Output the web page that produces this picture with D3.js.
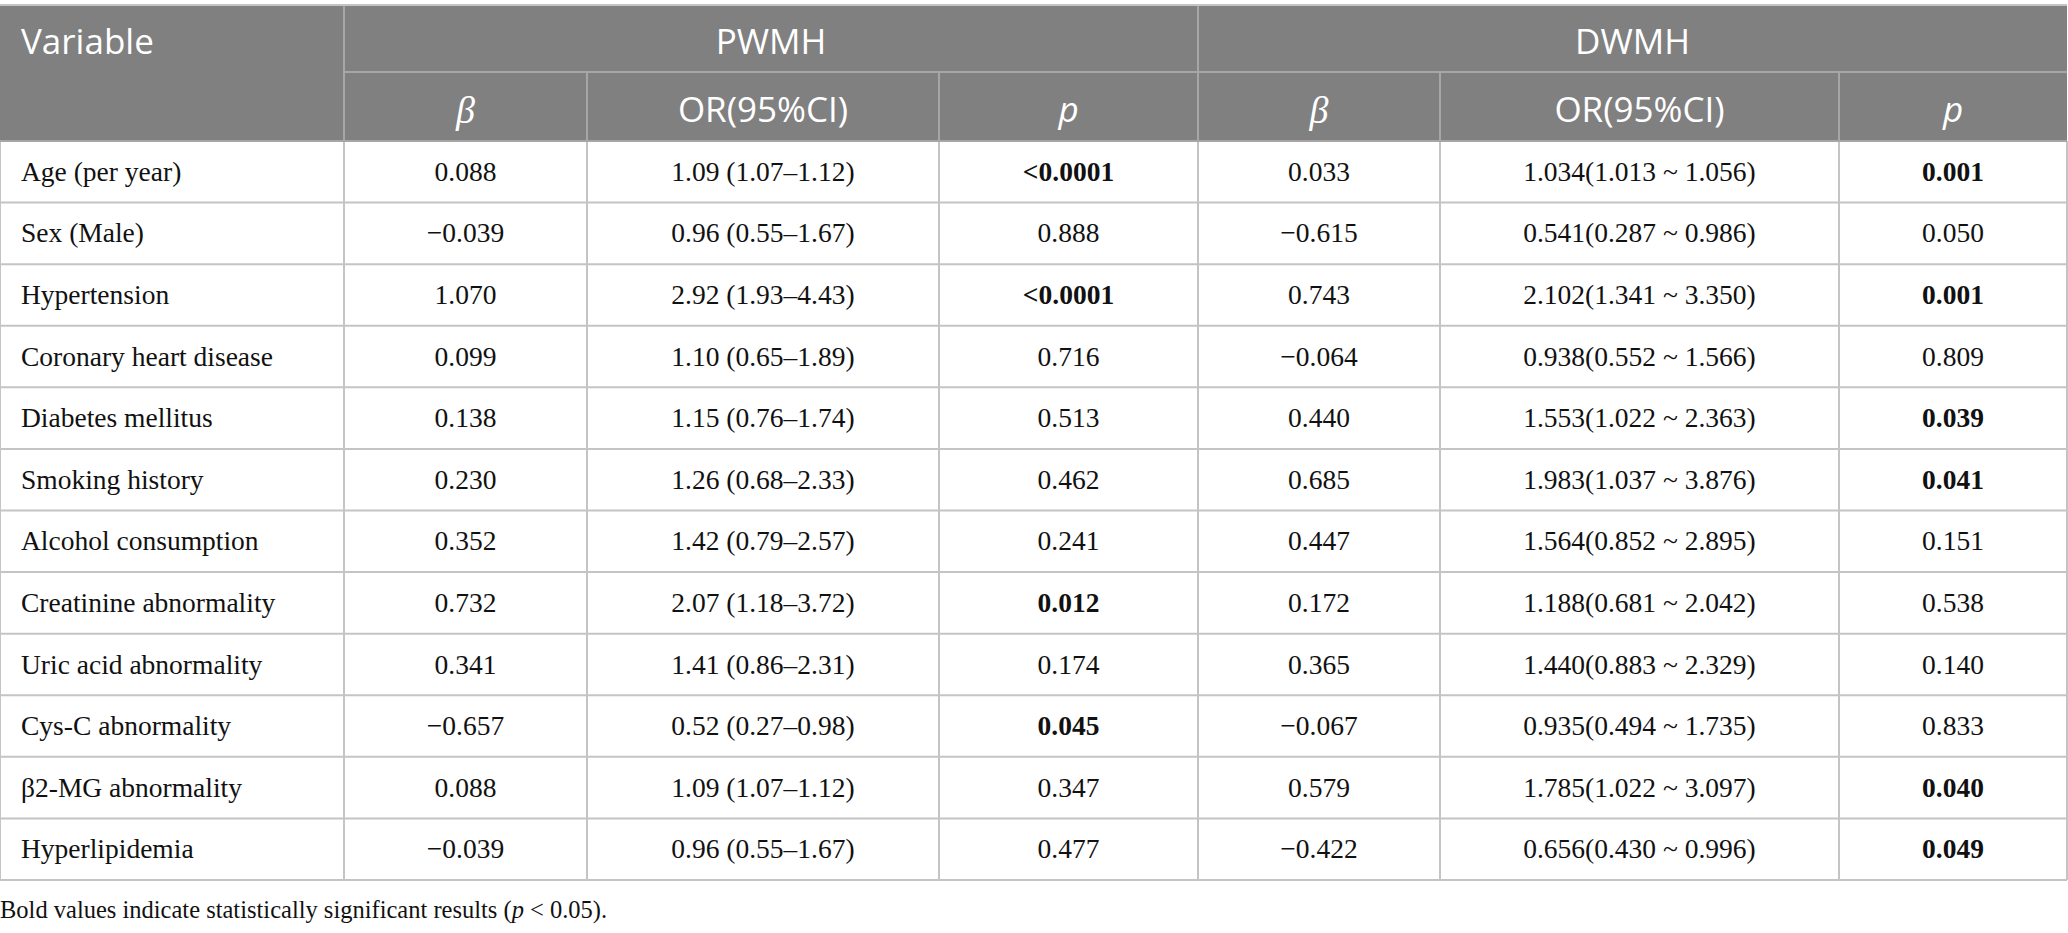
<!DOCTYPE html>
<html>
<head>
<meta charset="utf-8">
<script src="https://cdn.jsdelivr.net/npm/d3@7"></script>
<style>
  body { margin: 0; background: #fff; }
  svg { display: block; }
  .hd { font-family: "Open Sans", sans-serif; fill: #fff; }
  .hd.beta { font-family: "Liberation Serif", serif; }
  .cell { font-family: "Liberation Serif", "Times New Roman", serif; fill: #111; }
</style>
</head>
<body>
<svg id="tbl"></svg>
<script>
'use strict';

var WIDTH = 2068;
var HEIGHT = 933;

// table data
var variables = ["Age (per year)", "Sex (Male)", "Hypertension", "Coronary heart disease",
  "Diabetes mellitus", "Smoking history", "Alcohol consumption", "Creatinine abnormality",
  "Uric acid abnormality", "Cys-C abnormality", "\u03b22-MG abnormality", "Hyperlipidemia"];
var pwmhBeta = ["0.088", "\u22120.039", "1.070", "0.099", "0.138", "0.230", "0.352", "0.732",
  "0.341", "\u22120.657", "0.088", "\u22120.039"];
var pwmhOR = ["1.09 (1.07\u20131.12)", "0.96 (0.55\u20131.67)", "2.92 (1.93\u20134.43)", "1.10 (0.65\u20131.89)",
  "1.15 (0.76\u20131.74)", "1.26 (0.68\u20132.33)", "1.42 (0.79\u20132.57)", "2.07 (1.18\u20133.72)",
  "1.41 (0.86\u20132.31)", "0.52 (0.27\u20130.98)", "1.09 (1.07\u20131.12)", "0.96 (0.55\u20131.67)"];
var pwmhP = ["<0.0001", "0.888", "<0.0001", "0.716", "0.513", "0.462", "0.241", "0.012",
  "0.174", "0.045", "0.347", "0.477"];
var dwmhBeta = ["0.033", "\u22120.615", "0.743", "\u22120.064", "0.440", "0.685", "0.447", "0.172",
  "0.365", "\u22120.067", "0.579", "\u22120.422"];
var dwmhOR = ["1.034(1.013 ~ 1.056)", "0.541(0.287 ~ 0.986)", "2.102(1.341 ~ 3.350)", "0.938(0.552 ~ 1.566)",
  "1.553(1.022 ~ 2.363)", "1.983(1.037 ~ 3.876)", "1.564(0.852 ~ 2.895)", "1.188(0.681 ~ 2.042)",
  "1.440(0.883 ~ 2.329)", "0.935(0.494 ~ 1.735)", "1.785(1.022 ~ 3.097)", "0.656(0.430 ~ 0.996)"];
var dwmhP = ["0.001", "0.050", "0.001", "0.809", "0.039", "0.041", "0.151", "0.538",
  "0.140", "0.833", "0.040", "0.049"];
var groups = ["PWMH", "DWMH"];
var subHeads = ["\u03b2", "OR(95%CI)", "p"];

// layout
var colEdges = [0, 344, 587, 939, 1198, 1440, 1839, 2067];
var TOP = 5, HEAD_SPLIT = 72, HEAD_BOTTOM = 141, BOTTOM = 880;
var LINE = "#c4c4c4";
var HEAD_LINE = "#a6a6a6";
var HEAD_FILL = "#808080";

var rowScale = d3.scaleBand()
  .domain(variables)
  .range([HEAD_BOTTOM, BOTTOM]);

function significant(p) {
  if (p.charAt(0) === "<") return true;
  return parseFloat(p) < 0.05;
}

var svg = d3.select("#tbl").attr("width", WIDTH).attr("height", HEIGHT);

// header background
svg.append("rect")
  .attr("x", 0).attr("y", TOP)
  .attr("width", colEdges[7]).attr("height", HEAD_BOTTOM - TOP)
  .attr("fill", HEAD_FILL);

// row lines
svg.selectAll("line.row")
  .data(variables)
  .enter().append("line")
  .attr("class", "row")
  .attr("x1", 0).attr("x2", colEdges[7])
  .attr("y1", function(d) { return rowScale(d) + rowScale.bandwidth(); })
  .attr("y2", function(d) { return rowScale(d) + rowScale.bandwidth(); })
  .attr("stroke", LINE).attr("stroke-width", 2);

// vertical lines in body
svg.selectAll("line.vbody")
  .data(colEdges)
  .enter().append("line")
  .attr("x1", function(d) { return d; }).attr("x2", function(d) { return d; })
  .attr("y1", HEAD_BOTTOM).attr("y2", BOTTOM)
  .attr("stroke", LINE).attr("stroke-width", 2);

// header lines
svg.append("line")
  .attr("x1", colEdges[1]).attr("x2", colEdges[7])
  .attr("y1", HEAD_SPLIT).attr("y2", HEAD_SPLIT)
  .attr("stroke", HEAD_LINE).attr("stroke-width", 2);
[1, 4].forEach(function(i) {
  svg.append("line")
    .attr("x1", colEdges[i]).attr("x2", colEdges[i])
    .attr("y1", TOP).attr("y2", HEAD_BOTTOM)
    .attr("stroke", HEAD_LINE).attr("stroke-width", 2);
});
[2, 3, 5, 6].forEach(function(i) {
  svg.append("line")
    .attr("x1", colEdges[i]).attr("x2", colEdges[i])
    .attr("y1", HEAD_SPLIT).attr("y2", HEAD_BOTTOM)
    .attr("stroke", HEAD_LINE).attr("stroke-width", 2);
});
svg.append("line")
  .attr("x1", 0).attr("x2", colEdges[7])
  .attr("y1", TOP).attr("y2", TOP)
  .attr("stroke", LINE).attr("stroke-width", 2);
svg.append("line")
  .attr("x1", 0).attr("x2", colEdges[7])
  .attr("y1", HEAD_BOTTOM).attr("y2", HEAD_BOTTOM)
  .attr("stroke", HEAD_LINE).attr("stroke-width", 2);

// header text
svg.append("text")
  .attr("class", "hd")
  .attr("x", 21).attr("y", (TOP + HEAD_SPLIT) / 2 + 2.5)
  .attr("dy", "0.36em")
  .attr("font-size", 35)
  .text("Variable");

groups.forEach(function(g, gi) {
  var x0 = colEdges[1 + gi * 3], x1 = colEdges[4 + gi * 3];
  svg.append("text")
    .attr("class", "hd")
    .attr("x", (x0 + x1) / 2).attr("y", (TOP + HEAD_SPLIT) / 2 + 2.5)
    .attr("dy", "0.36em")
    .attr("text-anchor", "middle")
    .attr("font-size", 35)
    .text(g);
  subHeads.forEach(function(s, si) {
    var a = colEdges[1 + gi * 3 + si], b = colEdges[2 + gi * 3 + si];
    svg.append("text")
      .attr("class", si === 0 ? "hd beta" : "hd")
      .attr("x", (a + b) / 2).attr("y", (HEAD_SPLIT + HEAD_BOTTOM) / 2 + 2.5)
      .attr("dy", "0.36em")
      .attr("text-anchor", "middle")
      .attr("font-size", si === 0 ? 38 : 35)
      .attr("font-style", si === 1 ? "normal" : "italic")
      .text(s);
  });
});

// body cells
var columns = [pwmhBeta, pwmhOR, pwmhP, dwmhBeta, dwmhOR, dwmhP];
var boldCols = { 2: true, 5: true };

variables.forEach(function(v, r) {
  var yc = rowScale(v) + rowScale.bandwidth() / 2;
  svg.append("text")
    .attr("class", "cell")
    .attr("x", 21).attr("y", yc).attr("dy", "0.33em")
    .attr("font-size", 27.5)
    .text(v);
  columns.forEach(function(col, c) {
    var val = col[r];
    svg.append("text")
      .attr("class", "cell")
      .attr("x", (colEdges[c + 1] + colEdges[c + 2]) / 2)
      .attr("y", yc).attr("dy", "0.33em")
      .attr("text-anchor", "middle")
      .attr("font-size", 27.5)
      .attr("font-weight", boldCols[c] && significant(val) ? "bold" : "normal")
      .text(val);
  });
});

// footnote
var note = svg.append("text")
  .attr("class", "cell")
  .attr("x", 0).attr("y", 918)
  .attr("font-size", 24.5);
note.append("tspan").text("Bold values indicate statistically significant results (");
note.append("tspan").attr("font-style", "italic").text("p");
note.append("tspan").text(" < 0.05).");
</script>
</body>
</html>
